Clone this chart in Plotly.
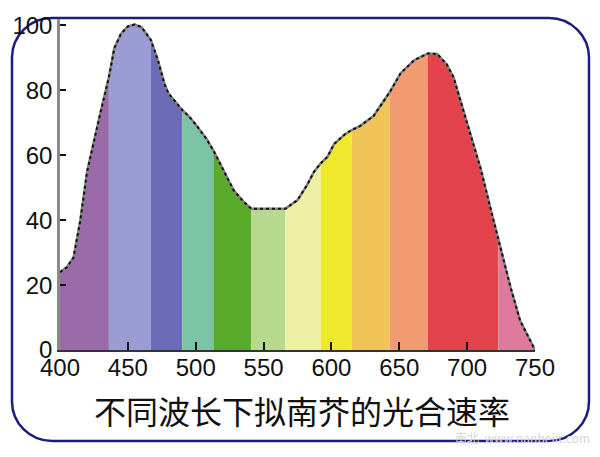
import plotly.graph_objects as go

# ---- data ----
wavelength = [400, 405, 410, 415, 420, 425, 430, 436, 440, 445, 450, 455, 460, 467,
              472, 477, 480, 485, 490, 495, 500, 508, 513, 518, 523, 528, 535, 541,
              550, 560, 566, 575, 582, 587, 592, 597, 602, 610, 615, 621, 631, 643,
              651, 661, 671, 678, 685, 690, 695, 703, 710, 717, 723, 732, 739, 750]
rate = [24, 25.5, 28.5, 40, 55, 64.5, 73.5, 84, 93, 97.5, 99.7, 100.3, 99.5, 95.5,
        89.5, 82, 79, 76.5, 74, 72, 69.5, 65, 61.5, 57.4, 53.3, 49.2, 45.8, 43.5,
        43.5, 43.5, 43.5, 46.2, 50.8, 54.8, 57.5, 59.5, 63.5, 66.5, 67.8, 69, 72.1, 79.5,
        85.3, 89.3, 91.4, 91.2, 88, 84, 77, 66, 55.8, 44, 34, 19.3, 9.1, 0]

band_edges = [400, 436, 467, 490, 513, 541, 566, 592, 615, 643, 671, 723, 750]
band_colors = ["#9a6aa9", "#9c9cd4", "#6b6bb6", "#7dc4a7", "#5aab2b", "#b6d98d",
               "#eef0a4", "#efe82c", "#f1c457", "#f19b73", "#e2434c", "#e07a9d"]

x_ticks = [400, 450, 500, 550, 600, 650, 700, 750]
y_ticks = [0, 20, 40, 60, 80, 100]
title_text = "不同波长下拟南芥的光合速率"
watermark_text = "南北  www.nanbeiit.com"

# ---- geometry ----
W, H = 600, 457
PL, PR, PT, PB = 60, 535, 15, 350  # plot area in pixels


def px(x):
    return (x - PL) / (PR - PL)


def py(y):
    return (PB - y) / (PB - PT)


fig = go.Figure()

# coloured bands under the curve
for i, col in enumerate(band_colors):
    lo, hi = band_edges[i], band_edges[i + 1]
    xs = [w for w in wavelength if lo <= w <= hi]
    ys = [r for w, r in zip(wavelength, rate) if lo <= w <= hi]
    fig.add_trace(go.Scatter(x=xs, y=ys, mode="lines", fill="tozeroy",
                             fillcolor=col, line=dict(width=0, color=col),
                             hoverinfo="skip", showlegend=False))

# outline of the curve
fig.add_trace(go.Scatter(x=wavelength, y=rate, mode="lines",
                         line=dict(color="#808080", width=2.5),
                         hoverinfo="skip", showlegend=False))
fig.add_trace(go.Scatter(x=wavelength, y=rate, mode="lines",
                         line=dict(color="#111111", width=2, dash="dot"),
                         showlegend=False))

# rounded border
x0, x1, y0, y1, r = 12, 589, 14, 442, 40
k = 0.552 * r


def P(x, y):
    return f"{px(x):.5f},{py(y):.5f}"


path = (f"M {P(x0 + r, y0)} L {P(x1 - r, y0)} "
        f"C {P(x1 - r + k, y0)} {P(x1, y0 + r - k)} {P(x1, y0 + r)} "
        f"L {P(x1, y1 - r)} "
        f"C {P(x1, y1 - r + k)} {P(x1 - r + k, y1)} {P(x1 - r, y1)} "
        f"L {P(x0 + r, y1)} "
        f"C {P(x0 + r - k, y1)} {P(x0, y1 - r + k)} {P(x0, y1 - r)} "
        f"L {P(x0, y0 + r)} "
        f"C {P(x0, y0 + r - k)} {P(x0 + r - k, y0)} {P(x0 + r, y0)} Z")
fig.add_shape(type="path", path=path, xref="paper", yref="paper",
              line=dict(color="#1c1c7c", width=2.5), layer="below")

fig.add_annotation(text=title_text, x=px(302), y=py(411), xref="paper", yref="paper",
                   showarrow=False, xanchor="center", yanchor="middle",
                   font=dict(family="Noto Sans CJK SC", size=32, color="#111111"))
fig.add_annotation(text=watermark_text, x=px(592), y=py(439), xref="paper", yref="paper",
                   showarrow=False, xanchor="right", yanchor="middle",
                   font=dict(family="Noto Sans CJK SC, DejaVu Sans", size=12, color="#d6d6d6"))

tick_font = dict(family="Liberation Sans Narrow, Arial Narrow, Liberation Sans, Arial",
                 size=24, color="#111111")

fig.update_layout(
    width=W, height=H,
    margin=dict(l=PL, r=W - PR, t=PT, b=H - PB),
    paper_bgcolor="white", plot_bgcolor="white",
    xaxis=dict(range=[400, 750], tickvals=x_ticks, showgrid=False, zeroline=False,
               showline=True, linecolor="#333333", linewidth=2,
               ticks="inside", ticklen=8, tickwidth=2, tickcolor="#111111",
               tickfont=tick_font, ticklabelstandoff=-5, fixedrange=True),
    yaxis=dict(range=[0, 102], tickvals=y_ticks, showgrid=False, zeroline=False,
               showline=True, linecolor="#8a8a8a", linewidth=2.5,
               ticks="inside", ticklen=6, tickwidth=2, tickcolor="#111111",
               tickfont=tick_font, fixedrange=True),
)

fig.write_html("out.html", config={"displayModeBar": False},
               post_script="document.body.style.margin='0';")
